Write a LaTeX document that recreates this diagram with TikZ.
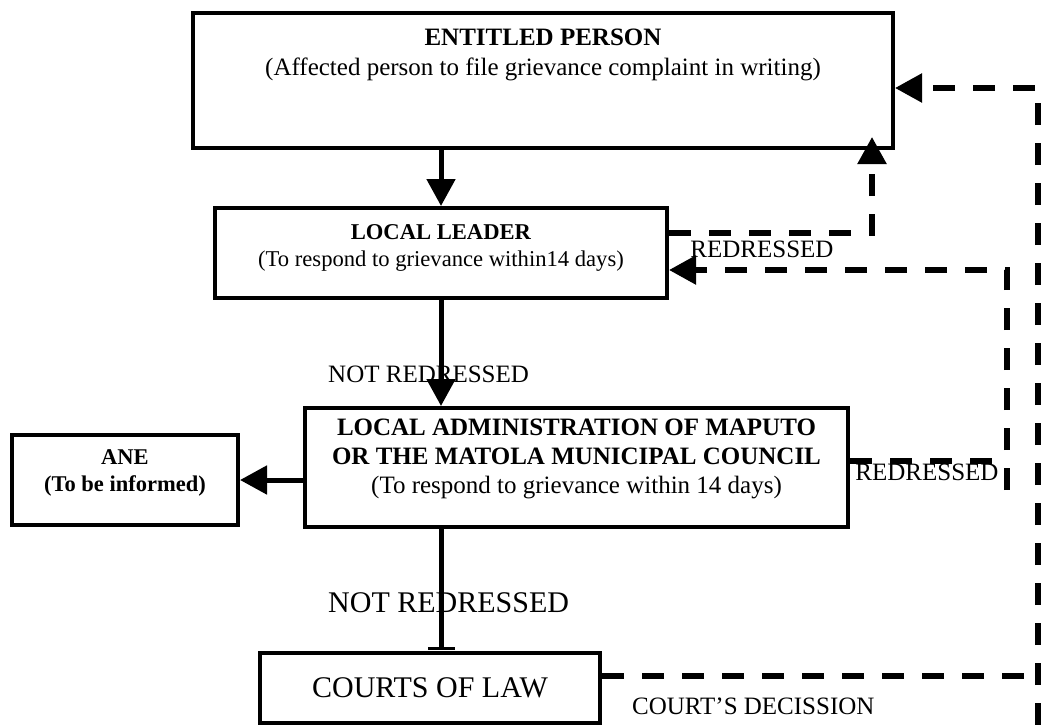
\documentclass[tikz,border=0pt]{standalone}
\usepackage{fontspec}
\setmainfont{Liberation Serif}
\usetikzlibrary{arrows.meta,calc}
\begin{document}
\begin{tikzpicture}[x=1pt,y=-1pt,
  box/.style={draw, line width=4pt, rectangle, inner sep=0pt, align=center},
  txt/.style={inner sep=0pt, align=center},
  conn/.style={line width=5pt},
  dsh/.style={line width=5.5pt, dash pattern=on 22pt off 18pt},
  tip/.style={-{Triangle[length=27pt,width=28pt]}},
  lab/.style={font=\fontsize{25}{30}\selectfont, inner sep=0pt},
]
\useasboundingbox (0,0) rectangle (1041,725);
% boxes
\node[box, minimum width=700pt, minimum height=135pt] (ent) at (543,80.5) {};
\node[txt, font=\fontsize{25}{30}\selectfont] (entt) at ([yshift=25.5pt]ent.center)
  {\textbf{ENTITLED PERSON}\\(Affected person to file grievance complaint in writing)};
\node[box, minimum width=452pt, minimum height=90pt] (ll) at (441,253) {};
\node[txt, font=\fontsize{22.6}{27}\selectfont] (llt) at ([yshift=5pt]ll.center)
  {\textbf{LOCAL LEADER}\\(To respond to grievance within14 days)};
\node[box, minimum width=543pt, minimum height=119pt] (alm) at (576.5,467.5) {};
\node[txt, font=\fontsize{25}{29}\selectfont] (almt) at ([yshift=8.5pt]alm.center)
  {\textbf{LOCAL ADMINISTRATION OF MAPUTO}\\\textbf{OR THE MATOLA MUNICIPAL COUNCIL}\\(To respond to grievance within 14 days)};
\node[box, minimum width=226pt, minimum height=90pt] (ane) at (125,480) {};
\node[txt, font=\bfseries\fontsize{22.5}{27}\selectfont] (anet) at ([yshift=7pt]ane.center)
  {ANE\\(To be informed)};
\node[box, minimum width=340pt, minimum height=70pt, font=\fontsize{30}{36}\selectfont] (courts) at (430,688) {COURTS OF LAW};
% solid connectors
\draw[conn,tip] (ent.south -| ll.north) -- (ll.north);
\draw[conn,tip] (ll.south) -- (ll.south |- alm.north);
\draw[conn,-{Bar[width=27pt,line width=3pt]}] (alm.south -| ll.south) -- ([yshift=1.5pt]courts.north -| ll.south);
\draw[conn,tip] (alm.west |- ane.east) -- (ane.east);
% dashed connectors
\draw[dsh,tip,shorten >=-13pt] ([yshift=20pt]ll.east) -| ([xshift=-23pt]ent.south east);
\coordinate (c2) at (1007,270);
\coordinate (c2b) at (1007,490);
\draw[dsh] ([yshift=6.5pt]alm.east) -- ([yshift=6.5pt]alm.east -| c2);
\draw[dsh,tip] (c2b) -- (c2) -- (c2 -| ll.east);
\coordinate (c3) at (1038,88);
\coordinate (c3b) at (1038,725);
\draw[dsh] ([yshift=12pt]courts.east) -- ([yshift=12pt]courts.east -| c3);
\draw[dsh,tip] (c3b) -- (c3) -- (c3 -| ent.east);
% labels
\node[lab, anchor=west] (l1) at (328,374) {NOT REDRESSED};
\node[lab] (l2) at (762,249) {REDRESSED};
\node[lab] (l3) at (927,472) {REDRESSED};
\node[lab, font=\fontsize{30}{36}\selectfont, anchor=west] (l4) at (328,603) {NOT REDRESSED};
\node[lab, anchor=west] (l5) at (632,706) {COURT’S DECISSION};
\end{tikzpicture}
\end{document}
